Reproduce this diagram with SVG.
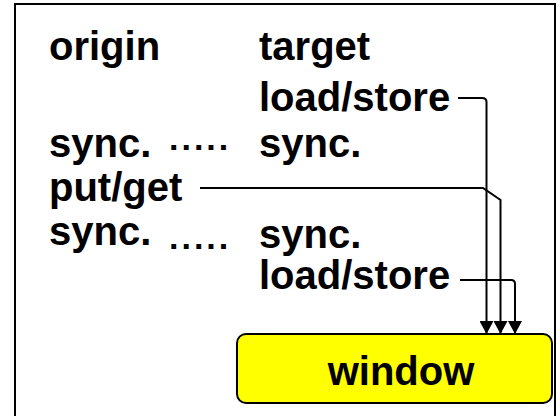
<svg xmlns="http://www.w3.org/2000/svg" width="560" height="416" viewBox="0 0 560 416">
<style>
.t{font-family:"Liberation Sans",Arial,sans-serif;font-weight:bold;font-size:40px;fill:#000}
.d{font-family:"Liberation Sans",Arial,sans-serif;font-weight:bold;font-size:34px;fill:#000;letter-spacing:3px}
.c{fill:none;stroke:#000;stroke-width:2}
</style>
<defs>
<marker id="ah" markerWidth="13" markerHeight="14" refX="13" refY="7" orient="auto" markerUnits="userSpaceOnUse" viewBox="0 0 13 14">
<path d="M0,0 L13,7 L0,14 Z" fill="#000"/>
</marker>
</defs>
<rect x="15" y="4" width="540" height="440" fill="#fff" stroke="#000" stroke-width="2"/>
<g id="labels">
<text class="t" x="49" y="60">origin</text>
<text class="t" x="259" y="60">target</text>
<text class="t" x="259" y="111">load/store</text>
<text class="t" x="49" y="157">sync.</text>
<text class="d" x="169" y="150">.....</text>
<text class="t" x="259" y="157">sync.</text>
<text class="t" x="49" y="201">put/get</text>
<text class="t" x="49" y="245">sync.</text>
<text class="d" x="169" y="249">.....</text>
<text class="t" x="259" y="248">sync.</text>
<text class="t" x="259" y="289">load/store</text>
</g>
<g id="window">
<rect x="237" y="334" width="315" height="69" rx="9" fill="#ffff00" stroke="#000" stroke-width="2"/>
<text class="t" x="401" y="385" text-anchor="middle">window</text>
</g>
<g id="connectors">
<path class="c" d="M458,98 H482 Q486.5,98 486.5,102 V334" marker-end="url(#ah)"/>
<path class="c" d="M200,188 H483 L500.5,200 V334" marker-end="url(#ah)"/>
<path class="c" d="M460,280 H511 Q515,280 515,284 V334" marker-end="url(#ah)"/>
</g>
</svg>
